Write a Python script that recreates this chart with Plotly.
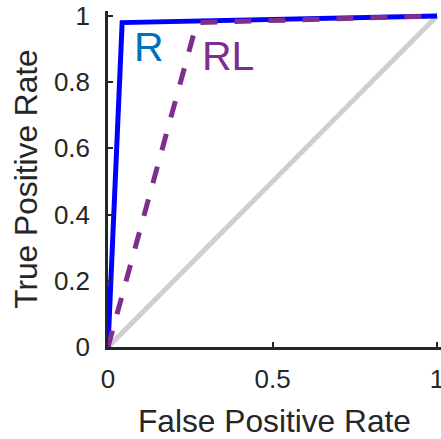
import plotly.graph_objects as go

# Data
chance_fpr = [0, 1]
chance_tpr = [0, 1]
r_fpr = [0, 0.043, 1]
r_tpr = [0, 0.98, 1]
rl_fpr = [0, 0.27, 1]
rl_tpr = [0, 0.98, 1]
x_ticks = [0, 0.5, 1]
x_ticktext = ["0", "0.5", "1"]
y_ticks = [0, 0.2, 0.4, 0.6, 0.8, 1]
y_ticktext = ["0", "0.2", "0.4", "0.6", "0.8", "1"]
labels = ["R", "RL"]
label_x = [0.125, 0.365]
label_y = [0.905, 0.88]

FONT = "Liberation Sans, Arial, Helvetica, sans-serif"
DARK = "#262626"

fig = go.Figure()
fig.add_trace(go.Scatter(x=chance_fpr, y=chance_tpr, mode="lines",
                         line=dict(color="#cfcfcf", width=5), showlegend=False))
fig.add_trace(go.Scatter(x=r_fpr, y=r_tpr, mode="lines",
                         line=dict(color="#0000ff", width=5), showlegend=False))
fig.add_trace(go.Scatter(x=rl_fpr, y=rl_tpr, mode="lines",
                         line=dict(color="#7E2F8E", width=5, dash="17px,17px"), showlegend=False))

label_colors = ["#0072BD", "#7E2F8E"]
for t, x, y, c in zip(labels, label_x, label_y, label_colors):
    fig.add_annotation(x=x, y=y, text=t, showarrow=False, xanchor="center", yanchor="middle",
                       font=dict(family=FONT, size=41, color=c))

axis_common = dict(showline=True, linecolor=DARK, linewidth=2.5, ticks="inside",
                   ticklen=5, tickwidth=2, tickcolor=DARK, showgrid=False, zeroline=False,
                   tickfont=dict(family=FONT, size=26, color=DARK), mirror=False,
                   automargin=False, ticklabeloverflow="allow")

fig.update_layout(
    width=441, height=439,
    margin=dict(l=108, r=0, t=11, b=92),
    paper_bgcolor="white", plot_bgcolor="white",
    hovermode=False,
    xaxis=dict(range=[0, 1.012], tickvals=x_ticks, ticktext=x_ticktext,
               title=dict(text="False Positive Rate", font=dict(family=FONT, size=31.7, color=DARK), standoff=23),
               ticklabelstandoff=7, **axis_common),
    yaxis=dict(range=[0, 1.015], tickvals=y_ticks, ticktext=y_ticktext,
               title=dict(text="True Positive Rate", font=dict(family=FONT, size=31.7, color=DARK), standoff=7),
               ticklabelstandoff=10, **axis_common),
)

# Remove the browser's default body margin so the figure fills the window from its corner.
fig.write_html("out.html", config={"displayModeBar": False},
               post_script="document.body.style.margin='0px';")
